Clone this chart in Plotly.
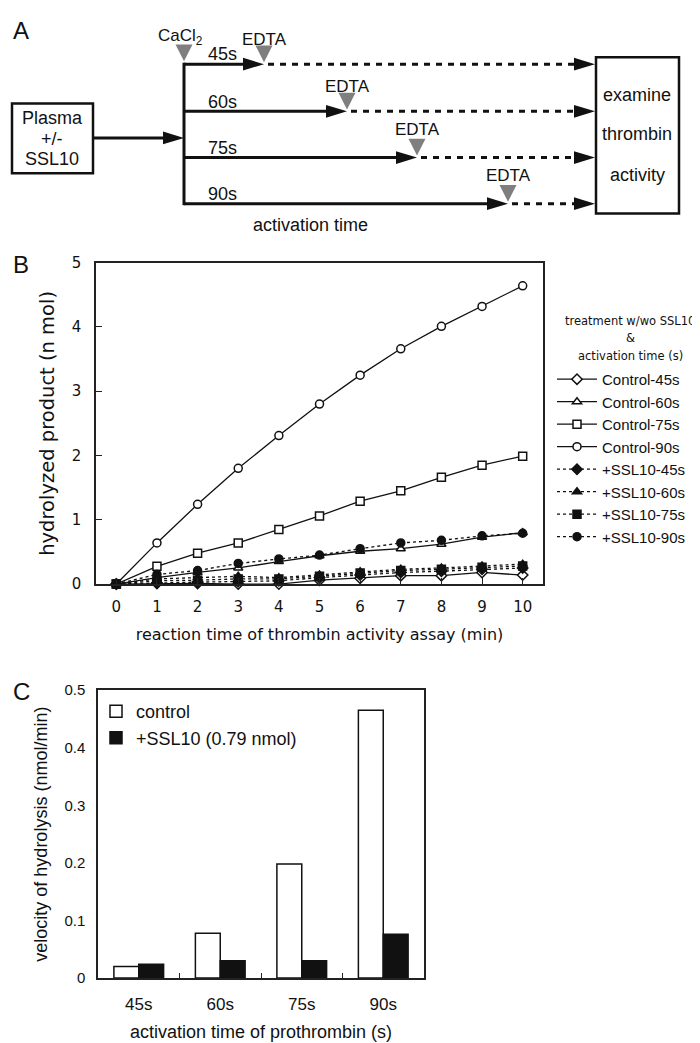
import plotly.graph_objects as go

# ---------------- data ----------------
minutes = list(range(11))
control_45 = [0, 0.01, 0.01, 0.00, 0.00, 0.06, 0.09, 0.13, 0.13, 0.18, 0.14]
control_60 = [0, 0.10, 0.18, 0.25, 0.35, 0.44, 0.51, 0.55, 0.62, 0.73, 0.80]
control_75 = [0, 0.275, 0.48, 0.64, 0.85, 1.06, 1.29, 1.45, 1.66, 1.85, 1.99]
control_90 = [0, 0.64, 1.24, 1.80, 2.31, 2.80, 3.25, 3.66, 4.01, 4.32, 4.64]
ssl10_45 = [0, 0.02, 0.03, 0.04, 0.05, 0.10, 0.14, 0.18, 0.20, 0.23, 0.25]
ssl10_60 = [0, 0.08, 0.10, 0.12, 0.10, 0.14, 0.19, 0.23, 0.25, 0.28, 0.31]
ssl10_75 = [0, 0.05, 0.06, 0.08, 0.08, 0.12, 0.17, 0.21, 0.23, 0.26, 0.28]
ssl10_90 = [0, 0.15, 0.21, 0.32, 0.39, 0.45, 0.55, 0.64, 0.68, 0.75, 0.79]

activation_labels = ["45s", "60s", "75s", "90s"]
velocity_control = [0.020, 0.078, 0.198, 0.465]
velocity_ssl10 = [0.024, 0.030, 0.030, 0.076]

W, H = 700, 1043
FONT = "Liberation Sans, Arial, sans-serif"
FONT_B = "DejaVu Sans, sans-serif"
INK = "#111111"


def px(x):
    return x / W


def py(y):
    return 1 - y / H


fig = go.Figure()

# ---------------- panel B ----------------
series_b = [
    ("Control-45s", control_45, "diamond", "white", "solid"),
    ("Control-60s", control_60, "triangle-up", "white", "solid"),
    ("Control-75s", control_75, "square", "white", "solid"),
    ("Control-90s", control_90, "circle", "white", "solid"),
    ("+SSL10-45s", ssl10_45, "diamond", INK, "dot"),
    ("+SSL10-60s", ssl10_60, "triangle-up", INK, "dot"),
    ("+SSL10-75s", ssl10_75, "square", INK, "dot"),
    ("+SSL10-90s", ssl10_90, "circle", INK, "dot"),
]
for name, vals, sym, fill, dash in series_b:
    fig.add_trace(go.Scatter(
        x=minutes, y=vals, name=name, mode="lines+markers",
        line=dict(color=INK, width=1.3, dash=dash),
        marker=dict(symbol=sym, size=8, color=fill, line=dict(color=INK, width=1.5)),
        cliponaxis=False, xaxis="x", yaxis="y", legend="legend",
    ))

# ---------------- panel C ----------------
fig.add_trace(go.Bar(
    x=activation_labels, y=velocity_control, name="control",
    marker=dict(color="white", line=dict(color=INK, width=1.5)),
    xaxis="x2", yaxis="y2", legend="legend2",
))
fig.add_trace(go.Bar(
    x=activation_labels, y=velocity_ssl10, name="+SSL10 (0.79 nmol)",
    marker=dict(color=INK, line=dict(color=INK, width=1.5)),
    xaxis="x2", yaxis="y2", legend="legend2",
))

axis_common = dict(showline=True, mirror=True, linecolor="#222222", linewidth=1.5,
                   showgrid=False, zeroline=False)

fig.update_layout(
    width=W, height=H,
    margin=dict(l=0, r=0, t=0, b=0),
    paper_bgcolor="white", plot_bgcolor="white",
    font=dict(family=FONT, color=INK),
    barmode="group", bargap=0.39, bargroupgap=0,
    xaxis=dict(domain=[px(88), px(535)], range=[-0.5, 10.5], anchor="y",
               tickvals=minutes, ticks="inside", ticklen=6, tickcolor="#222222",
               ticklabelstandoff=8,
               tickfont=dict(family=FONT_B, size=15),
               title=dict(text="reaction time of thrombin activity assay (min)",
                          font=dict(family=FONT_B, size=16), standoff=14),
               **axis_common),
    yaxis=dict(domain=[py(577), py(250)], range=[0, 5], dtick=1, anchor="x",
               ticks="inside", ticklen=6, tickcolor="#222222", ticklabelstandoff=10,
               tickfont=dict(family=FONT_B, size=15),
               title=dict(text="hydrolyzed product (n mol)",
                          font=dict(family=FONT_B, size=19.5), standoff=12),
               **axis_common),
    xaxis2=dict(domain=[px(90), px(416)], anchor="y2", type="category",
                ticks="inside", tickson="boundaries", ticklen=5, tickcolor="#222222",
                ticklabelstandoff=10,
                tickfont=dict(size=17),
                title=dict(text="activation time of prothrombin (s)",
                           font=dict(size=18), standoff=12),
                **axis_common),
    yaxis2=dict(domain=[py(978), py(685)], range=[0, 0.5], dtick=0.1, anchor="x2",
                ticks="", ticklabelstandoff=8, tickfont=dict(size=15),
                title=dict(text="velocity of hydrolysis (nmol/min)",
                           font=dict(size=18), standoff=12),
                **axis_common),
    legend=dict(
        x=px(544), y=py(352), xanchor="left", yanchor="top",
        bgcolor="rgba(0,0,0,0)", borderwidth=0,
        font=dict(family=FONT, size=15), itemwidth=40, tracegroupgap=0,
    ),
    legend2=dict(
        x=px(88), y=py(688), xanchor="left", yanchor="top",
        bgcolor="rgba(0,0,0,0)", borderwidth=0, font=dict(size=18),
        itemwidth=30, traceorder="normal",
    ),
)

# ---------------- panel A (schematic) ----------------
shapes = []
annots = []
LW = 3


def line(x0, y0, x1, y1, dash="solid", width=LW, color=INK):
    shapes.append(dict(type="line", xref="paper", yref="paper",
                       x0=px(x0), y0=py(y0), x1=px(x1), y1=py(y1),
                       line=dict(color=color, width=width, dash=dash)))


def poly(points, color):
    d = "M " + " L ".join(f"{px(x)},{py(y)}" for x, y in points) + " Z"
    shapes.append(dict(type="path", xref="paper", yref="paper", path=d,
                       fillcolor=color, line=dict(color=color, width=0)))


def rect(x0, y0, x1, y1):
    shapes.append(dict(type="rect", xref="paper", yref="paper",
                       x0=px(x0), y0=py(y0), x1=px(x1), y1=py(y1),
                       line=dict(color=INK, width=2.5), fillcolor="rgba(0,0,0,0)"))


def arrowhead(xtip, y, length=21, half=6.5):
    poly([(xtip - length, y - half), (xtip, y), (xtip - length, y + half)], INK)


def marker_tri(xtip, ytip, w=17, h=17):
    poly([(xtip - w / 2, ytip - h), (xtip + w / 2, ytip - h), (xtip, ytip)], "#7f7f7f")


def text(x, y, s, size=18, xanchor="center", family=FONT):
    annots.append(dict(xref="paper", yref="paper", x=px(x), y=py(y), text=s,
                       showarrow=False, xanchor=xanchor, yanchor="middle",
                       font=dict(family=family, size=size, color=INK)))


# Plasma box and arrow into the branch
rect(4, 88, 85, 159)
text(44, 103, "Plasma")
text(44, 124, "+/-")
text(44, 145, "SSL10")
line(85, 123, 160, 123)
arrowhead(176, 123)

# branch vertical
VX = 176
row_y = [48, 96, 143, 190]
edta_x = [256, 339, 409, 500]
edta_label_y = [23, 71, 114, 161]
line(VX, row_y[0] - 1.5, VX, row_y[-1] + 1.5)
for lab, ry, ex, ly in zip(activation_labels, row_y, edta_x, edta_label_y):
    line(VX, ry, ex - 18, ry)
    arrowhead(ex, ry)
    line(ex + 4, ry, 566, ry, dash="6px,6px")
    arrowhead(587, ry)
    marker_tri(ex, ry - 2)
    text(ex, ly, "EDTA", size=17)
    text(198, ry - 10, lab, xanchor="left")

marker_tri(VX, 45)
text(172, 20, "CaCl<sub>2</sub>", size=17)

rect(588, 41, 671, 200)
text(629, 79, "examine")
text(629, 119, "thrombin")
text(629, 161, "activity")
text(302, 212, "activation time")

# legend heading of panel B
text(622, 309, "treatment w/wo SSL10", size=11.5, family=FONT_B)
text(622, 327, "&", size=11.5, family=FONT_B)
text(622, 345, "activation time (s)", size=11.5, family=FONT_B)

# panel letters
text(3, 14, "A", size=24, xanchor="left")
text(3, 252, "B", size=24, xanchor="left")
text(3, 686, "C", size=24, xanchor="left")

fig.update_layout(shapes=shapes, annotations=annots)

fig.write_html("out.html")
